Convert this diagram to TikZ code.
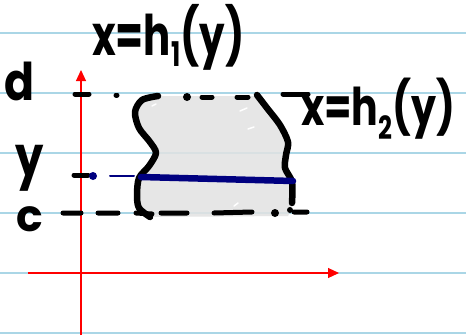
\documentclass[tikz,border=0pt]{standalone}
\usepackage{fontspec}
\setmainfont{Poppins}
\usetikzlibrary{arrows.meta}
\definecolor{rulecol}{RGB}{170,214,230}
\definecolor{fillgray}{RGB}{226,226,226}
\definecolor{navyline}{RGB}{0,0,128}
\begin{document}
\begin{tikzpicture}[x=1pt,y=-1pt,
  rule/.style={line width=2.5pt, color=rulecol},
  axis/.style={red, line width=1.2pt, -{Triangle[length=11pt,width=10pt]}},
  bnd/.style={line width=6.5pt, line cap=round, line join=round},
  dsh/.style={line width=5pt, line cap=round},
  lab/.style={font=\fontsize{52}{52}\selectfont\bfseries, anchor=base west, inner sep=0pt, transform shape}]
\useasboundingbox (0,0) rectangle (466,335);
\fill[white] (0,0) rectangle (466,335);
% ruled lines
\foreach \y in {33,93,153,213,273,333} \draw[rule] (0,\y) -- (466,\y);
% region
\fill[fillgray, opacity=0.85] plot[smooth] coordinates {(158,96) (142,100) (135,112) (139,128) (150,142) (156,153) (149,166) (139,178) (137,195) (139,208) (150,217)}
  -- (288,216) -- plot[smooth] coordinates {(290,212) (292,202) (292,182) (285,168) (287,155) (288,142) (280,125) (267,108) (257,96)} -- cycle;
\draw[white, line width=1.5pt, line cap=round] (240,111) -- (247,108) (248,129) -- (254,127) (152,106) -- (156,104) (234,206) -- (238,203);
% axes
\coordinate (ya0) at (81,335);
\coordinate (ya1) at (81,70);
\coordinate (xa0) at (28,273);
\coordinate (xa1) at (339,273);
\draw[axis] (ya0) -- (ya1);
\draw[axis] (xa0) -- (xa1);
% d line
\draw[dsh] (75,94) -- (89,94) (116,95) -- (117,95) (202,97) -- (212,97) (237,97) -- (248,97) (283,94) -- (308,94);
\fill (187,97) circle (4pt);
% c line
\draw[dsh] (63,213) -- (81,213) (98,213) -- (118,213) (136,213) -- (152,214) (161,213) -- (187,213) (214,213) -- (252,212) (294,212) -- (307,212);
\fill (275,213) circle (4pt);
\fill (290,210) circle (3pt);
% boundaries
\draw[bnd] plot[smooth] coordinates {(158,96) (142,100) (135,112) (139,128) (150,142) (156,153) (149,166) (139,178) (137,195) (139,208) (150,217)};
\draw[bnd] plot[smooth] coordinates {(257,95) (267,108) (280,125) (288,142) (286,155) (285,168) (292,182) (292,203)};
% y marker and line
\draw[dsh] (74,175) -- (88,175);
\node[circle, fill=navyline, inner sep=0pt, minimum size=8pt] (ydot) at (93,176) {};
\coordinate (ythin0) at (110,176);
\coordinate (ythin1) at (134,176);
\draw[navyline, line width=2pt, line cap=round] (ythin0) -- (ythin1);
\coordinate (yl0) at (141,177);
\coordinate (yl1) at (293,181);
\draw[navyline, line width=6.5pt, line cap=round] (yl0) -- (yl1);
% labels
\node[lab, font=\fontsize{56}{56}\selectfont\bfseries, xscale=0.72] (lh1) at (92,55) {x=h\raisebox{-0.2em}{\fontsize{34}{34}\selectfont 1}(y)};
\node[lab, xscale=0.76] (lh2) at (301,125) {x=h\raisebox{-0.28em}{\fontsize{32}{32}\selectfont 2}(y)};
\node[lab, xscale=0.85] (ld) at (4,100) {d};
\node[lab, font=\fontsize{56}{56}\selectfont\bfseries, xscale=0.8] (ly) at (15,176) {y};
\node[lab, font=\fontsize{44}{44}\selectfont\bfseries] (lc) at (16,231) {c};
\end{tikzpicture}
\end{document}
